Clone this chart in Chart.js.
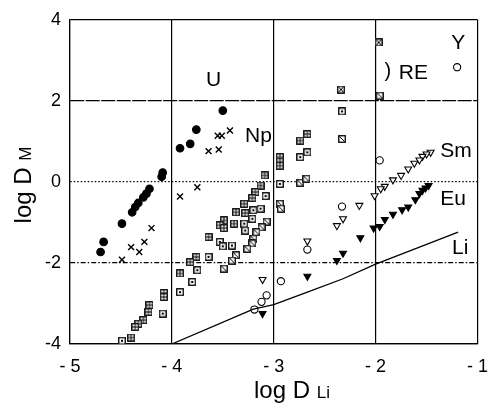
<!DOCTYPE html>
<html>
<head>
<meta charset="utf-8">
<script src="https://cdn.jsdelivr.net/npm/chart.js@4"></script>
<style>
  html, body { margin: 0; padding: 0; background: #fff; }
  #wrap { width: 500px; height: 407px; }
</style>
</head>
<body>
<div id="wrap"><canvas id="plot"></canvas></div>
<script>
// log D(M) against log D(Li)
const xTicks = [-5, -4, -3, -2, -1];
const yTicks = [-4, -2, 0, 2, 4];

const uPts = [[-3.50, 1.76], [-3.76, 1.29], [-3.82, 0.94], [-3.92, 0.83], [-4.09, 0.23],
  [-4.10, 0.13], [-4.22, -0.17], [-4.25, -0.29], [-4.28, -0.38], [-4.33, -0.52],
  [-4.36, -0.62], [-4.39, -0.75], [-4.49, -1.03], [-4.67, -1.48], [-4.70, -1.73]];
const npPts = [[-3.64, 0.76], [-3.54, 0.80], [-3.55, 1.14], [-3.51, 1.14], [-3.43, 1.27],
  [-3.75, -0.13], [-3.92, -0.36], [-4.20, -1.14], [-4.27, -1.48], [-4.32, -1.73],
  [-4.40, -1.61], [-4.49, -1.92]];
const rePlus = [[-3.09, 0.16], [-3.13, -0.09], [-3.18, -0.25], [-3.21, -0.40], [-3.29, -0.54],
  [-3.37, -0.75], [-3.28, -0.77], [-3.49, -0.95], [-3.39, -1.03], [-3.53, -1.07],
  [-3.49, -1.14], [-3.64, -1.36], [-3.76, -1.85], [-3.82, -1.98], [-3.92, -2.26],
  [-2.94, 0.61], [-2.94, 0.50], [-2.94, 0.40], [-2.67, 1.18], [-2.74, 1.02],
  [-4.08, -2.74], [-4.08, -2.84], [-4.22, -3.04], [-4.23, -3.21], [-4.28, -3.41],
  [-4.33, -3.50], [-4.36, -3.58], [-4.40, -3.84]];
const reDot = [[-3.08, -0.35], [-3.13, -0.66], [-3.20, -0.70], [-3.21, -0.91], [-3.29, -1.03],
  [-3.28, -1.20], [-3.53, -1.48], [-3.50, -1.59], [-3.41, -1.57], [-3.64, -1.85],
  [-3.75, -2.18], [-3.80, -2.47], [-3.92, -2.72], [-2.94, -0.05], [-2.74, 0.61],
  [-2.67, 0.73], [-2.33, 1.74], [-4.09, -3.25], [-4.49, -3.92]];
const reSlash = [[-3.07, -0.98], [-3.12, -1.12], [-3.17, -1.24], [-3.20, -1.40], [-3.21, -1.52],
  [-3.26, -1.65], [-3.37, -1.81], [-3.41, -1.94], [-3.49, -2.14], [-2.94, -0.54],
  [-2.93, -0.66], [-2.74, -0.02], [-2.68, 0.08], [-1.96, 2.13], [-2.33, 1.06]];
const reCross = [[-2.34, 2.28], [-1.97, 3.44]];
const yPts = [[-1.20, 2.83], [-1.96, 0.53], [-2.33, -0.61], [-2.67, -1.67], [-2.93, -2.45],
  [-3.07, -2.80], [-3.12, -2.96], [-3.19, -3.15]];
const smPts = [[-1.46, 0.73], [-1.50, 0.69], [-1.54, 0.63], [-1.57, 0.54], [-1.62, 0.46],
  [-1.68, 0.32], [-1.75, 0.16], [-1.83, 0.05], [-1.91, -0.11], [-1.95, -0.17],
  [-2.01, -0.34], [-2.16, -0.58], [-2.32, -0.91], [-2.38, -1.08], [-2.67, -1.46],
  [-3.11, -2.41]];
const euPts = [[-1.48, -0.09], [-1.51, -0.15], [-1.54, -0.21], [-1.57, -0.29], [-1.61, -0.44],
  [-1.68, -0.62], [-1.74, -0.69], [-1.83, -0.80], [-1.91, -0.93], [-1.96, -1.10],
  [-2.02, -1.14], [-2.15, -1.38], [-2.32, -1.76], [-2.38, -1.94], [-2.67, -2.33],
  [-3.11, -3.25]];
const liLine = [[-4.00, -4.00], [-3.20, -3.14], [-3.00, -3.03], [-2.67, -2.72],
  [-2.32, -2.39], [-2.00, -2.03], [-1.19, -1.24]];

// labels placed in data coordinates
const notes = [
  { text: 'U', x: -3.59, y: 2.50 },
  { text: 'Np', x: -3.15, y: 1.12 },
  { text: 'Y', x: -1.19, y: 3.43 },
  { text: 'RE', x: -1.63, y: 2.69 },
  { text: 'Sm', x: -1.21, y: 0.75 },
  { text: 'Eu', x: -1.24, y: -0.43 },
  { text: 'Li', x: -1.17, y: -1.64 }
];

const FONT = "'Liberation Sans', Arial, sans-serif";
const toXY = arr => arr.map(p => ({ x: p[0], y: p[1] }));

function boxIcon(kind) {
  const c = document.createElement('canvas');
  c.width = 8; c.height = 8;
  const g = c.getContext('2d');
  g.fillStyle = '#fff';
  g.fillRect(0, 0, 8, 8);
  g.strokeStyle = '#000';
  g.lineWidth = 1.3;
  g.strokeRect(0.75, 0.75, 6.5, 6.5);
  g.lineWidth = 1;
  g.beginPath();
  if (kind === 'plus') {
    g.moveTo(4, 1); g.lineTo(4, 7);
    g.moveTo(1, 4); g.lineTo(7, 4);
  } else if (kind === 'slash') {
    g.moveTo(1.5, 1.5); g.lineTo(6.5, 6.5);
  } else if (kind === 'cross') {
    g.moveTo(1.5, 1.5); g.lineTo(6.5, 6.5);
    g.moveTo(6.5, 1.5); g.lineTo(1.5, 6.5);
  }
  g.stroke();
  if (kind === 'dot') {
    g.fillStyle = '#000';
    g.fillRect(3, 3, 2, 2);
  }
  return c;
}

const noteLabels = {
  id: 'noteLabels',
  afterDatasetsDraw(chart) {
    const { ctx, scales: { x, y } } = chart;
    ctx.save();
    ctx.fillStyle = '#000';
    ctx.font = '21px ' + FONT;
    ctx.textAlign = 'center';
    ctx.textBaseline = 'middle';
    notes.forEach(n => ctx.fillText(n.text, x.getPixelForValue(n.x), y.getPixelForValue(n.y)));
    // small bracket in front of RE
    ctx.font = '300 20px ' + FONT;
    ctx.fillText(')', x.getPixelForValue(-1.88), y.getPixelForValue(2.72));

    // axis titles with smaller subscripts
    ctx.textAlign = 'left';
    ctx.textBaseline = 'alphabetic';
    ctx.font = '24px ' + FONT;
    const main = 'log D ';
    const w1 = ctx.measureText(main).width;
    ctx.font = '17px ' + FONT;
    const w2 = ctx.measureText('Li').width;
    let sx = 292 - (w1 + w2) / 2;
    ctx.font = '24px ' + FONT;
    ctx.fillText(main, sx, 398);
    ctx.font = '17px ' + FONT;
    ctx.fillText('Li', sx + w1, 398);

    ctx.translate(31, 185);
    ctx.rotate(-Math.PI / 2);
    ctx.font = '24px ' + FONT;
    const w3 = ctx.measureText(main).width;
    ctx.font = '17px ' + FONT;
    const w4 = ctx.measureText('M').width;
    sx = -(w3 + w4) / 2;
    ctx.font = '24px ' + FONT;
    ctx.fillText(main, sx, 0);
    ctx.font = '17px ' + FONT;
    ctx.fillText('M', sx + w3, 0);
    ctx.restore();
  }
};

function pts(data, style, extra) {
  return Object.assign({
    data: toXY(data),
    pointStyle: style,
    pointRadius: 4,
    pointBorderColor: '#000',
    pointBackgroundColor: '#fff',
    pointBorderWidth: 1.1
  }, extra || {});
}

const yDash = ctx => {
  if (!ctx.tick) return [];
  if (ctx.tick.value === 0) return [1.5, 2];
  if (ctx.tick.value === -2) return [5, 2, 1.5, 2];
  if (ctx.tick.value === 2) return [14, 1.5];
  return [];
};

new Chart(document.getElementById('plot').getContext('2d'), {
  type: 'scatter',
  data: {
    datasets: [
      {
        type: 'line', data: toXY(liLine), borderColor: '#000', borderWidth: 1.3,
        pointRadius: 0, fill: false, tension: 0
      },
      pts(uPts, 'circle', { pointRadius: 3.8, pointBackgroundColor: '#000' }),
      pts(npPts, 'crossRot', { pointRadius: 4.2, pointBorderWidth: 1.4 }),
      pts(rePlus, boxIcon('plus')),
      pts(reDot, boxIcon('dot')),
      pts(reSlash, boxIcon('slash')),
      pts(reCross, boxIcon('cross')),
      pts(yPts, 'circle', { pointRadius: 3.6 }),
      pts(smPts, 'triangle', { pointRadius: 4, pointRotation: 180 }),
      pts(euPts, 'triangle', { pointRadius: 4, pointRotation: 180, pointBackgroundColor: '#000' })
    ]
  },
  options: {
    responsive: true,
    maintainAspectRatio: false,
    animation: false,
    layout: { padding: { top: 19, right: 12, left: 0, bottom: 0 } },
    plugins: { legend: { display: false }, tooltip: { enabled: false } },
    scales: {
      x: {
        type: 'linear', min: -5, max: -1,
        afterFit(s) { s.height = 63; },
        afterBuildTicks(s) { s.ticks = xTicks.map(v => ({ value: v })); },
        grid: { color: '#000', lineWidth: 1.2, drawTicks: false },
        border: { color: '#000', width: 1.2 },
        ticks: {
          color: '#000', padding: 12, font: { family: FONT, size: 18 },
          callback: v => (v < 0 ? '- ' + (-v) : String(v))
        }
      },
      y: {
        type: 'linear', min: -4, max: 4,
        afterFit(s) { s.width = 70; },
        afterBuildTicks(s) { s.ticks = yTicks.map(v => ({ value: v })); },
        grid: { color: '#000', lineWidth: 1.2, drawTicks: false },
        border: { color: '#000', width: 1.2, dash: yDash },
        ticks: { color: '#000', padding: 9, font: { family: FONT, size: 18 } }
      }
    }
  },
  plugins: [noteLabels]
});
</script>
</body>
</html>
